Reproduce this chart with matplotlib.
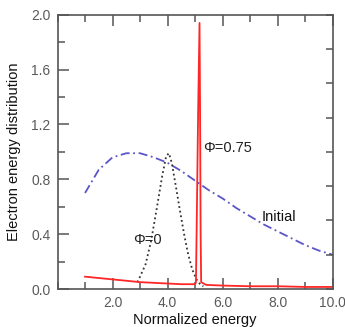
import matplotlib
matplotlib.use("Agg")
import matplotlib.pyplot as plt
from matplotlib.ticker import MultipleLocator, FormatStrFormatter

plt.rcParams["font.family"] = ["Liberation Sans", "DejaVu Sans"]

# initial distribution (blue dash-dot)
init_x = [1.0, 1.5, 2.0, 2.5, 3.0, 3.5, 4.0, 4.5, 5.0, 5.5, 6.0, 6.5,
          7.0, 7.5, 8.0, 8.5, 9.0, 9.5, 10.0]
init_y = [0.70, 0.87, 0.96, 0.99, 0.99, 0.96, 0.92, 0.86, 0.79, 0.72, 0.66,
          0.59, 0.53, 0.47, 0.42, 0.37, 0.32, 0.28, 0.25]

# phi = 0 (black dotted)
phi0_x = [2.9, 3.0, 3.2, 3.4, 3.6, 3.8, 3.95, 4.05, 4.15, 4.3, 4.45, 4.6,
          4.75, 4.9, 5.05, 5.2, 5.3]
phi0_y = [0.05, 0.09, 0.18, 0.35, 0.58, 0.82, 0.97, 0.99, 0.92, 0.75, 0.57,
          0.40, 0.25, 0.14, 0.07, 0.03, 0.02]

# phi = 0.75 (red solid)
phi75_x = [1.0, 1.5, 2.0, 2.5, 3.0, 3.5, 4.0, 4.5, 5.0, 5.03, 5.06, 5.11,
           5.16, 5.18, 5.2, 5.22, 5.4, 6.0, 7.0, 8.0, 9.0, 10.0]
phi75_y = [0.09, 0.08, 0.07, 0.06, 0.05, 0.045, 0.04, 0.035, 0.035, 0.05,
           0.5, 1.3, 1.94, 1.3, 0.4, 0.05, 0.03, 0.025, 0.02, 0.02, 0.015,
           0.015]

AXC = "#555555"

fig = plt.figure(figsize=(3.45, 3.27), dpi=100)
ax = fig.add_axes([0.1667, 0.1162, 0.7977, 0.8388])

ax.plot(init_x, init_y, color="#5a55c8", lw=1.3, ls=(0, (5, 2, 1, 2)))
ax.plot(phi0_x, phi0_y, color="#333333", lw=1.3, ls=(0, (1, 1.6)))
ax.plot(phi75_x, phi75_y, color="#ff2626", lw=1.3)

ax.set_xlim(0, 10)
ax.set_ylim(0, 2.0)
ax.xaxis.set_major_locator(MultipleLocator(2))
ax.xaxis.set_minor_locator(MultipleLocator(1))
ax.yaxis.set_major_locator(MultipleLocator(0.4))
ax.yaxis.set_minor_locator(MultipleLocator(0.2))
ax.xaxis.set_major_formatter(FormatStrFormatter("%.1f"))
ax.yaxis.set_major_formatter(FormatStrFormatter("%.1f"))
ax.set_xticks([2, 4, 6, 8, 10])
ax.tick_params(which="major", direction="in", length=8, width=1.1, color=AXC,
               labelsize=10, labelcolor="#5a5a5a", top=True, pad=5)
ax.tick_params(which="minor", direction="in", length=5, width=1.1, color=AXC,
               top=True)
ax.tick_params(axis="y", which="both", right=False)
for s in ax.spines.values():
    s.set_color(AXC)
    s.set_linewidth(1.2)

# right axis: separate unlabeled tick set
ax2 = ax.twinx()
ax2.set_ylim(0, 8)
ax2.yaxis.set_major_locator(MultipleLocator(1))
ax2.tick_params(axis="y", direction="in", length=5, width=1.1, color=AXC,
                labelright=False)
for s in ax2.spines.values():
    s.set_visible(False)

ax.text(5.3, 1.03, "\u03a6=0.75", fontsize=10.5, color="#222222",
        va="center", ha="left")
ax.text(2.75, 0.36, "\u03a6=0", fontsize=10.5, color="#222222",
        va="center", ha="left")
ax.text(7.43, 0.525, "Initial", fontsize=10.5, color="#111111",
        va="center", ha="left")

ax.set_xlabel("Normalized energy", fontsize=10.5, color="#111111", labelpad=2)
ax.set_ylabel("Electron energy distribution", fontsize=10.5, color="#111111",
              labelpad=7)

fig.savefig("out.png", dpi=100)
